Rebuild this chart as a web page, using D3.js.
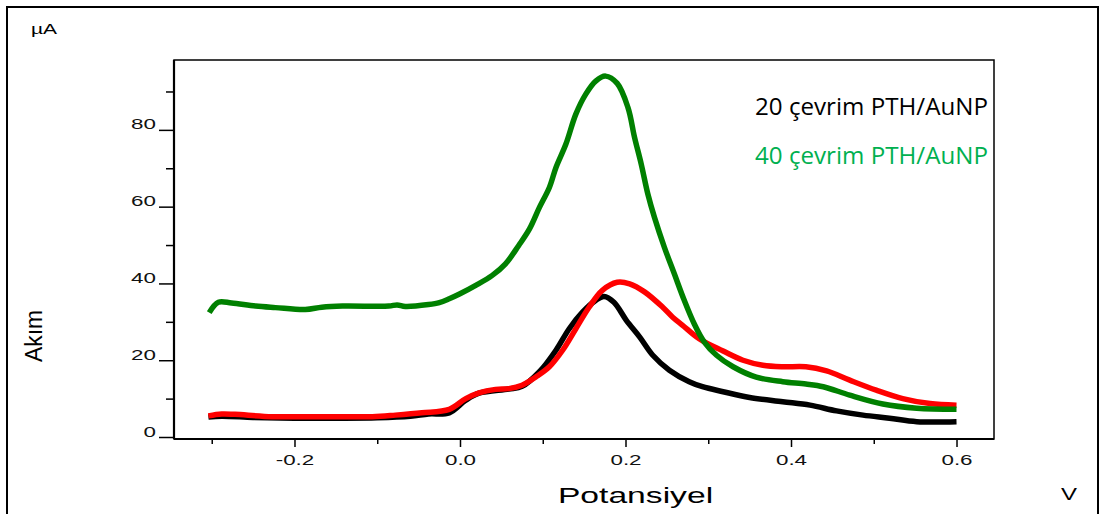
<!DOCTYPE html>
<html lang="tr">
<head>
<meta charset="UTF-8">
<title>Akım - Potansiyel</title>
<script src="https://d3js.org/d3.v7.min.js"></script>
<style>
  body { margin: 0; background: #fff; }
  svg { display: block; }
  .tick text { font-family: "Liberation Sans", Arial, sans-serif; font-size: 14px; fill: #111; }
</style>
</head>
<body>
<div id="chart"></div>
<script>
// Potansiyel (V) / Akım (µA) values
const greenX = [-0.303, -0.292, -0.276, -0.247, -0.223, -0.187, -0.167, -0.142, -0.086, -0.076, -0.066, -0.038, -0.025, -0.013, 0.000, 0.019, 0.039, 0.055, 0.071, 0.084, 0.096, 0.108, 0.116, 0.128, 0.140, 0.152, 0.164, 0.176, 0.190, 0.203, 0.211, 0.219, 0.227, 0.235, 0.247, 0.259, 0.271, 0.283, 0.295, 0.310, 0.330, 0.358, 0.390, 0.418, 0.439, 0.471, 0.511, 0.552, 0.600];
const greenY = [32.4, 35.1, 34.9, 34.1, 33.7, 33.2, 33.8, 34.1, 34.1, 34.4, 34.0, 34.5, 35.0, 36.0, 37.3, 39.5, 42.1, 45.1, 49.9, 54.2, 59.8, 65.0, 70.2, 76.3, 84.1, 89.3, 92.7, 94.0, 92.1, 85.8, 78.0, 71.1, 63.3, 57.2, 49.4, 42.5, 35.6, 29.5, 24.8, 21.3, 18.3, 15.6, 14.4, 13.8, 13.1, 10.9, 8.6, 7.5, 7.2];

const redX = [-0.304, -0.288, -0.272, -0.227, -0.167, -0.106, -0.078, -0.046, -0.013, 0.007, 0.023, 0.043, 0.059, 0.075, 0.092, 0.108, 0.124, 0.140, 0.156, 0.172, 0.190, 0.205, 0.223, 0.245, 0.257, 0.269, 0.289, 0.318, 0.342, 0.366, 0.390, 0.418, 0.443, 0.471, 0.503, 0.535, 0.568, 0.600];
const redY = [5.5, 6.0, 5.9, 5.3, 5.3, 5.3, 5.7, 6.3, 7.2, 10.0, 11.5, 12.4, 12.6, 13.5, 15.7, 18.3, 22.6, 28.2, 33.8, 38.2, 40.3, 39.9, 37.8, 33.8, 31.2, 29.1, 25.6, 22.4, 20.0, 18.7, 18.3, 18.3, 17.2, 14.8, 12.2, 10.0, 8.7, 8.3];

const blackX = [-0.304, -0.288, -0.250, -0.200, -0.150, -0.100, -0.060, -0.038, -0.013, 0.007, 0.023, 0.059, 0.075, 0.096, 0.116, 0.132, 0.148, 0.164, 0.174, 0.186, 0.201, 0.217, 0.233, 0.253, 0.277, 0.293, 0.318, 0.350, 0.390, 0.423, 0.455, 0.487, 0.519, 0.552, 0.600];
const blackY = [5.2, 5.4, 5.1, 4.9, 4.9, 5.0, 5.4, 6.0, 6.3, 9.6, 11.4, 12.5, 13.2, 17.0, 22.6, 28.2, 32.5, 35.6, 36.6, 35.1, 30.4, 26.1, 21.3, 17.4, 14.4, 13.1, 11.8, 10.3, 9.2, 8.3, 6.8, 5.7, 4.9, 4.0, 4.0];

const xMajor = [-0.2, 0.0, 0.2, 0.4, 0.6];
const xMinor = [-0.3, -0.1, 0.1, 0.3, 0.5];
const yMajor = [0, 20, 40, 60, 80];
const yMinor = [10, 30, 50, 70, 90];

const legendLabels = ["20 çevrim PTH/AuNP", "40 çevrim PTH/AuNP"];
const legendColors = ["#000000", "#00b050"];

const width = 1105, height = 514;
const plot = { left: 174, top: 60, right: 994, bottom: 439 };
const stretch = 1.6; // axis text in the figure is drawn wide

const svg = d3.select("#chart").append("svg")
    .attr("width", width)
    .attr("height", height);

// outer frame (runs off the bottom)
svg.append("rect")
    .attr("x", 7).attr("y", 7)
    .attr("width", 1091).attr("height", 530)
    .attr("fill", "none").attr("stroke", "#000").attr("stroke-width", 2);

const x = d3.scaleLinear().domain([-0.3456, 0.6453]).range([plot.left, plot.right]);
const y = d3.scaleLinear().domain([-0.52, 98.2]).range([plot.bottom, plot.top]);

// plot box
svg.append("rect")
    .attr("x", plot.left).attr("y", plot.top)
    .attr("width", plot.right - plot.left).attr("height", plot.bottom - plot.top)
    .attr("fill", "none").attr("stroke", "#000").attr("stroke-width", 1.5);

// x axis
const xAxisG = svg.append("g").attr("transform", `translate(0,${plot.bottom})`);
xAxisG.append("g")
    .call(d3.axisBottom(x).tickValues(xMinor).tickSize(5).tickFormat(""))
    .call(g => g.select(".domain").remove());
xAxisG.append("g")
    .call(d3.axisBottom(x).tickValues(xMajor).tickSize(8).tickFormat(d3.format(".1f")))
    .call(g => g.select(".domain").remove())
    .call(g => g.selectAll(".tick text")
        .attr("y", 26).attr("dy", 0)
        .attr("transform", `scale(${stretch},1)`)
        .text(d => d3.format(".1f")(d).replace("−", "-")));

// y axis
const yAxisG = svg.append("g").attr("transform", `translate(${plot.left},0)`);
yAxisG.append("g")
    .call(d3.axisLeft(y).tickValues(yMinor).tickSize(8).tickFormat(""))
    .call(g => g.select(".domain").remove());
yAxisG.append("g")
    .call(d3.axisLeft(y).tickValues(yMajor).tickSize(15).tickFormat(d3.format("d")))
    .call(g => g.select(".domain").remove())
    .call(g => g.selectAll(".tick text")
        .attr("x", -18 / stretch).attr("y", -1).attr("dy", 0)
        .attr("transform", `scale(${stretch},1)`));

svg.selectAll(".tick line").attr("stroke", "#000").attr("stroke-width", 1.5);

// heavier axis lines
svg.append("line")
    .attr("x1", plot.left).attr("x2", plot.right)
    .attr("y1", plot.bottom).attr("y2", plot.bottom)
    .attr("stroke", "#000").attr("stroke-width", 2.2);
svg.append("line")
    .attr("x1", plot.left).attr("x2", plot.left)
    .attr("y1", plot.top).attr("y2", plot.bottom)
    .attr("stroke", "#000").attr("stroke-width", 2.2);

// curves
const line = d3.line()
    .x(d => x(d[0]))
    .y(d => y(d[1]))
    .curve(d3.curveCatmullRom.alpha(0.5));

const series = [
    { xs: blackX, ys: blackY, color: "#000000" },
    { xs: redX, ys: redY, color: "#ff0000" },
    { xs: greenX, ys: greenY, color: "#008000" }
];

series.forEach(s => {
    svg.append("path")
        .datum(s.xs.map((v, i) => [v, s.ys[i]]))
        .attr("fill", "none")
        .attr("stroke", s.color)
        .attr("stroke-width", 5.5)
        .attr("stroke-linejoin", "round")
        .attr("d", line);
});

// legend
legendLabels.forEach((t, i) => {
    svg.append("text")
        .attr("x", 755).attr("y", 115 + i * 49)
        .attr("font-family", "'Open Sans', 'Noto Sans', sans-serif")
        .attr("font-size", 23)
        .attr("fill", legendColors[i])
        .attr("textLength", 233)
        .attr("lengthAdjust", "spacingAndGlyphs")
        .text(t);
});

// axis titles and units
const sans = "'Liberation Sans', Arial, sans-serif";

svg.append("text")
    .attr("transform", `translate(31,34) scale(1.5,1)`)
    .attr("font-family", sans).attr("font-size", 14)
    .text("µA");

svg.append("text")
    .attr("transform", "translate(42,336) rotate(-90)")
    .attr("text-anchor", "middle")
    .attr("font-family", sans).attr("font-size", 23)
    .attr("textLength", 52).attr("lengthAdjust", "spacingAndGlyphs")
    .text("Akım");

svg.append("text")
    .attr("transform", `translate(635.5,503) scale(1.53,1)`)
    .attr("text-anchor", "middle")
    .attr("font-family", sans).attr("font-size", 22)
    .text("Potansiyel");

svg.append("text")
    .attr("transform", `translate(1069,500) scale(1.5,1)`)
    .attr("text-anchor", "middle")
    .attr("font-family", sans).attr("font-size", 16)
    .text("V");
</script>
</body>
</html>
